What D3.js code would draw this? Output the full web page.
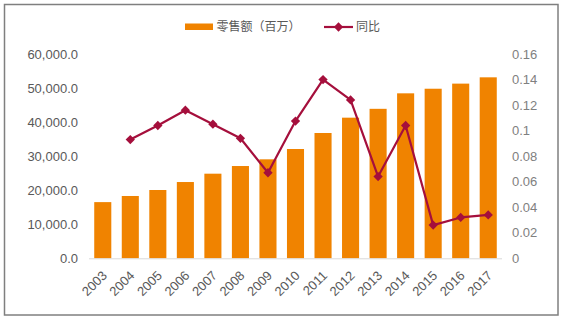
<!DOCTYPE html>
<html><head><meta charset="utf-8">
<script src="https://cdn.jsdelivr.net/npm/d3@7"></script>
<style>
html,body{margin:0;padding:0;background:#fff;}
svg{display:block;font-family:"Liberation Sans",Arial,sans-serif;}
</style></head>
<body><svg id="c" width="561" height="322"></svg>
<script>
const years = ["2003","2004","2005","2006","2007","2008","2009","2010","2011","2012","2013","2014","2015","2016","2017"];
const sales = [16500,18300,20060,22400,24850,27100,29070,32100,36800,41300,43900,48450,49800,51300,53150];
const yoy = [null,0.093,0.104,0.116,0.105,0.094,0.067,0.1075,0.140,0.124,0.064,0.104,0.026,0.032,0.034];
const leftTicks = [0,10000,20000,30000,40000,50000,60000];
const rightTicks = [0,0.02,0.04,0.06,0.08,0.1,0.12,0.14,0.16];
const seriesNames = ["零售额（百万）","同比"];

const svg = d3.select("#c");
const barColor = "#F08300", lineColor = "#A50F3C", textColor = "#595959";

svg.append("rect").attr("x",4.5).attr("y",4.5).attr("width",553.5).attr("height",310.5)
  .attr("fill","none").attr("stroke","#7f7f7f").attr("stroke-width",1.5);

const x = d3.scaleBand().domain(years).range([89,502]).paddingInner(0.38).paddingOuter(0.19);
const yL = d3.scaleLinear().domain([0,60000]).range([258.3,54]);
const yR = d3.scaleLinear().domain([0,0.16]).range([258.3,54]);

// left axis
const axL = svg.append("g").attr("transform","translate(80,0)")
  .call(d3.axisLeft(yL).tickValues(leftTicks).tickSize(0).tickPadding(2).tickFormat(d3.format(",.1f")));
axL.select(".domain").remove();
axL.selectAll("text").attr("fill",textColor).style("font-size","13px").style("font-family","Liberation Sans, Arial, sans-serif");

// right axis
const axR = svg.append("g").attr("transform","translate(510,0)")
  .call(d3.axisRight(yR).tickValues(rightTicks).tickSize(0).tickPadding(2).tickFormat(d=>String(+d.toFixed(2))));
axR.select(".domain").remove();
axR.selectAll("text").attr("fill","#808080").style("font-size","13px").style("font-family","Liberation Sans, Arial, sans-serif");

// bars
svg.append("g").selectAll("rect").data(years).join("rect")
  .attr("x",d=>x(d)).attr("width",x.bandwidth())
  .attr("y",(d,i)=>yL(sales[i])).attr("height",(d,i)=>yL(0)-yL(sales[i]))
  .attr("fill",barColor);

// baseline
svg.append("line").attr("x1",89).attr("x2",502).attr("y1",yL(0)+0.5).attr("y2",yL(0)+0.5)
  .attr("stroke","#d9d9d9").attr("stroke-width",1);

// x axis labels
const axX = svg.append("g").attr("transform",`translate(0,${yL(0)})`)
  .call(d3.axisBottom(x).tickSize(0).tickPadding(0));
axX.select(".domain").remove();
axX.selectAll("text").attr("fill",textColor).style("font-size","13px")
  .style("font-family","Liberation Sans, Arial, sans-serif")
  .attr("text-anchor","end").attr("dy","0")
  .attr("transform","translate(5,18) rotate(-45)");

// line
const pts = years.map((d,i)=>({d,v:yoy[i]})).filter(p=>p.v!=null);
const line = d3.line().x(p=>x(p.d)+x.bandwidth()/2).y(p=>yR(p.v));
svg.append("path").datum(pts).attr("d",line).attr("fill","none")
  .attr("stroke",lineColor).attr("stroke-width",2.2).attr("stroke-linejoin","round");
const diamond = d3.symbol().type(d3.symbolDiamond2).size(55);
svg.append("g").selectAll("path").data(pts).join("path")
  .attr("d",diamond)
  .attr("transform",p=>`translate(${x(p.d)+x.bandwidth()/2},${yR(p.v)})`)
  .attr("fill",lineColor);

// legend
const lg = svg.append("g");
lg.append("rect").attr("x",185).attr("y",23.5).attr("width",28).attr("height",6.5).attr("fill",barColor);
lg.append("text").attr("x",216.5).attr("y",31).text(seriesNames[0])
  .attr("fill",textColor).style("font-size","12px").style("font-family","Noto Sans CJK SC, sans-serif");
lg.append("line").attr("x1",324).attr("x2",353).attr("y1",27).attr("y2",27).attr("stroke",lineColor).attr("stroke-width",2.2);
lg.append("path").attr("d",diamond).attr("transform","translate(338.5,27)").attr("fill",lineColor);
lg.append("text").attr("x",356).attr("y",31).text(seriesNames[1])
  .attr("fill",textColor).style("font-size","12px").style("font-family","Noto Sans CJK SC, sans-serif");
</script></body></html>
